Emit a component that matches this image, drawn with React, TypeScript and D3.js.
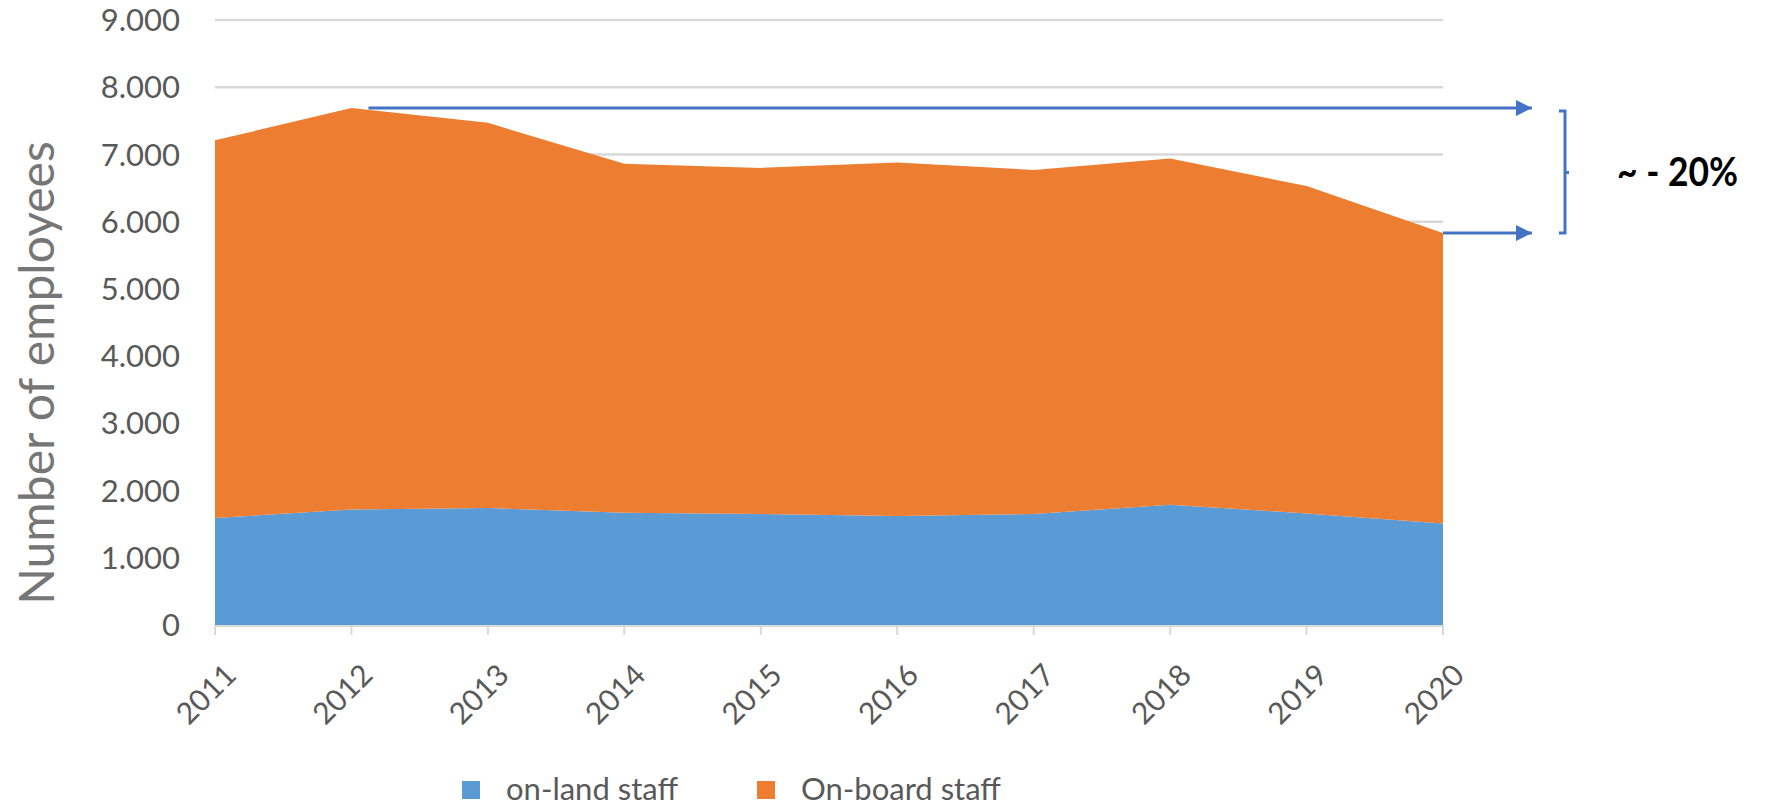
import React from 'react';
import * as d3 from 'd3';

const years = [2011, 2012, 2013, 2014, 2015, 2016, 2017, 2018, 2019, 2020];
const onLandStaff = [1590, 1720, 1740, 1670, 1650, 1620, 1650, 1790, 1660, 1510];
const onBoardStaff = [5620, 5970, 5730, 5190, 5150, 5260, 5120, 5150, 4870, 4320];
const yTicks = [0, 1000, 2000, 3000, 4000, 5000, 6000, 7000, 8000, 9000];
const seriesNames = ['on-land staff', 'On-board staff'];
const seriesColors = ['#5B9BD5', '#ED7D31'];
const changeLabel = '~ - 20%';

const W = 1775;
const H = 808;
const FONT = 'Lato, "Open Sans", sans-serif';

export default function App(): JSX.Element {
  // plot area
  const left = 215;
  const right = 1443;
  const top = 20;
  const bottom = 625;

  const x = d3.scaleLinear().domain([years[0], years[years.length - 1]]).range([left, right]);
  const y = d3.scaleLinear().domain([0, 9000]).range([bottom, top]);

  const rows = years.map((yr, i) => ({ year: yr, land: onLandStaff[i], board: onBoardStaff[i] }));
  const stacked = d3.stack<any>().keys(['land', 'board'])(rows);

  const area = d3
    .area<any>()
    .x((d) => x(d.data.year))
    .y0((d) => y(d[0]))
    .y1((d) => y(d[1]));

  // annotation: peak (2012) vs last year
  const totals = years.map((_, i) => onLandStaff[i] + onBoardStaff[i]);
  const peakIdx = 1;
  const lastIdx = years.length - 1;
  const yPeak = y(totals[peakIdx]);
  const yLast = y(totals[lastIdx]);
  const arrowEnd = 1532;
  const bracketX = 1565;
  const blue = '#4472C4';

  return (
    <svg width={W} height={H} style={{ position: 'absolute', left: 0, top: 0, background: '#fff' }}>
      <defs>
        <marker id="ah" viewBox="0 0 10 10" refX="10" refY="5" markerWidth="5.5" markerHeight="5.5" orient="auto" markerUnits="strokeWidth">
          <path d="M0,0 L10,5 L0,10 z" fill={blue} />
        </marker>
      </defs>

      {/* grid lines */}
      {yTicks.filter((t) => t > 0).map((t) => (
        <line key={t} x1={left} x2={right} y1={y(t)} y2={y(t)} stroke="#D9D9D9" strokeWidth={2.5} />
      ))}

      {/* stacked areas */}
      {stacked.map((s, i) => (
        <path key={s.key} d={area(s) || ''} fill={seriesColors[i]} />
      ))}

      {/* x axis */}
      <line x1={left} x2={right} y1={bottom + 1} y2={bottom + 1} stroke="#D9D9D9" strokeWidth={2} />
      {years.map((yr) => (
        <line key={yr} x1={x(yr)} x2={x(yr)} y1={bottom} y2={bottom + 10} stroke="#D9D9D9" strokeWidth={2} />
      ))}
      {years.map((yr) => (
        <text
          key={yr}
          transform={`translate(${x(yr) + 23},${bottom + 52}) rotate(-45)`}
          textAnchor="end"
          fontFamily={FONT}
          fontSize={30}
          fill="#595959"
        >
          {yr}
        </text>
      ))}

      {/* y axis labels */}
      {yTicks.map((t) => (
        <text key={t} x={180} y={y(t)} dy="0.36em" textAnchor="end" fontFamily={FONT} fontSize={31} fill="#595959">
          {t === 0 ? '0' : d3.format(',')(t).replace(',', '.')}
        </text>
      ))}
      <text
        transform={`translate(54,373) rotate(-90)`}
        textAnchor="middle"
        fontFamily={FONT}
        fontSize={48}
        fill="#767676"
      >
        Number of employees
      </text>

      {/* annotation arrows */}
      <line x1={x(years[peakIdx]) + 17} x2={arrowEnd} y1={yPeak} y2={yPeak} stroke={blue} strokeWidth={3} markerEnd="url(#ah)" />
      <line x1={x(years[lastIdx])} x2={arrowEnd} y1={yLast} y2={yLast} stroke={blue} strokeWidth={3} markerEnd="url(#ah)" />
      <path
        d={`M${bracketX - 6},${yPeak + 3} L${bracketX},${yPeak + 3} L${bracketX},${yLast} L${bracketX - 6},${yLast}
           M${bracketX},${(yPeak + yLast) / 2 + 2} L${bracketX + 4},${(yPeak + yLast) / 2 + 2}`}
        fill="none"
        stroke={blue}
        strokeWidth={3}
      />
      <text
        x={1617}
        y={(yPeak + yLast) / 2 + 15}
        fontFamily={FONT}
        fontWeight={700}
        fontSize={41}
        textLength={121}
        lengthAdjust="spacingAndGlyphs"
        fill="#000"
      >
        {changeLabel}
      </text>

      {/* legend */}
      {seriesNames.map((name, i) => {
        const lx = i === 0 ? 462 : 757;
        return (
          <g key={name}>
            <rect x={lx} y={781} width={18} height={18} fill={seriesColors[i]} />
            <text x={lx + 44} y={789} dy="0.36em" fontFamily={FONT} fontSize={31} fill="#595959">
              {name}
            </text>
          </g>
        );
      })}
    </svg>
  );
}
